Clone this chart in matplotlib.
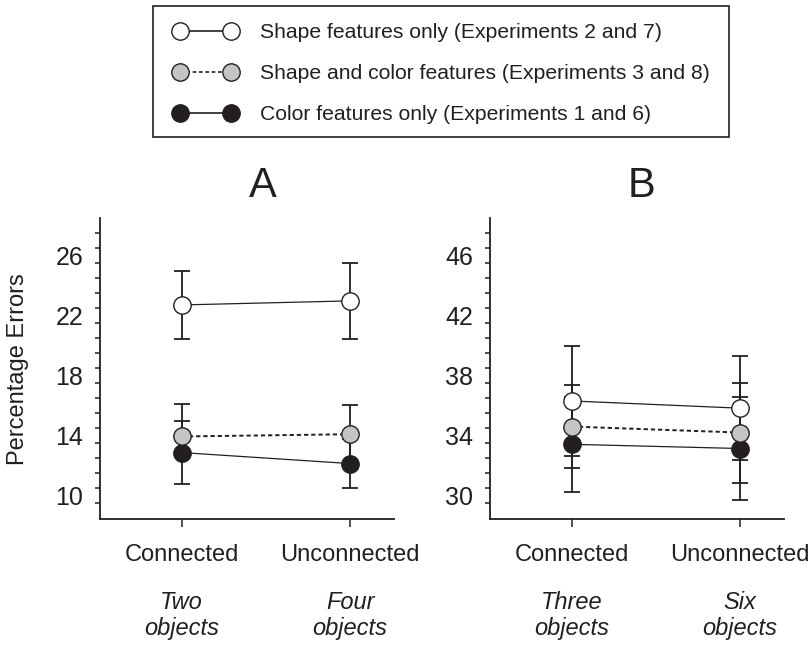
import matplotlib
matplotlib.use("Agg")
import matplotlib.pyplot as plt
from matplotlib.lines import Line2D
from matplotlib.patches import Rectangle
import numpy as np

plt.rcParams['font.family'] = ['Liberation Sans', 'DejaVu Sans']

conditions = ["Connected", "Unconnected"]
objects_A = ["Two\nobjects", "Four\nobjects"]
objects_B = ["Three\nobjects", "Six\nobjects"]

# Panel A
A_shape = [22.69, 22.96]
A_shape_err = [2.27, 2.52]
A_both = [13.95, 14.10]
A_both_err_lo = [1.00, 1.95]
A_both_err_hi = [2.14, 1.95]
A_color = [12.88, 12.15]
A_color_err = [2.10, 1.62]

# Panel B
B_shape = [36.31, 35.83]
B_shape_err = [3.66, 3.47]
B_both = [34.61, 34.21]
B_both_err = [2.75, 3.32]
B_color = [33.43, 33.15]
B_color_err = [3.14, 3.42]

A_ticks = [10, 14, 18, 22, 26]
B_ticks = [30, 34, 38, 42, 46]

labels = ["Shape features only (Experiments 2 and 7)",
          "Shape and color features (Experiments 3 and 8)",
          "Color features only (Experiments 1 and 6)"]

INK = "#231f20"
GRAY = "#c4c4c4"
MS = 12.5

W, H = 809, 645
fig = plt.figure(figsize=(W / 100, H / 100), dpi=100)


def px_axes(l, r, t, b):
    return fig.add_axes([l / W, 1 - b / H, (r - l) / W, (b - t) / H])


axA = px_axes(100, 394, 217.5, 518.5)
axB = px_axes(490, 784, 217.5, 518.5)


def panel(ax, shape, shape_err, both, both_err, color, color_err, ticks, ylo, objs, title, tx):
    x = np.arange(len(conditions))
    ebkw = dict(fmt='none', ecolor=INK, elinewidth=1.3, capsize=6, capthick=1.3, zorder=1)
    ax.errorbar(x, shape, yerr=shape_err, **ebkw)
    ax.errorbar(x, both, yerr=both_err, **ebkw)
    ax.errorbar(x, color, yerr=color_err, **ebkw)
    ax.plot(x, shape, color=INK, lw=0.9, zorder=2)
    ax.plot(x, both, color=INK, lw=1.4, ls=(0, (2.2, 1.5)), zorder=2)
    ax.plot(x, color, color=INK, lw=0.9, zorder=2)
    ax.plot(x, color, 'o', ms=MS, mfc=INK, mec=INK, mew=1.0, ls='none', zorder=3)
    ax.plot(x, both, 'o', ms=MS, mfc=GRAY, mec=INK, mew=1.0, ls='none', zorder=4)
    ax.plot(x, shape, 'o', ms=MS, mfc='white', mec=INK, mew=1.0, ls='none', zorder=5)

    ax.set_xlim(-0.485, 1.26)
    ax.set_ylim(ylo, ylo + 20)
    for s in ['top', 'right']:
        ax.spines[s].set_visible(False)
    for s in ['left', 'bottom']:
        ax.spines[s].set_linewidth(1.3)
        ax.spines[s].set_color(INK)
    ax.set_yticks(ticks)
    ax.set_yticklabels([str(t) for t in ticks])
    ax.set_yticks(np.arange(ylo + 1, ylo + 20, 1.0), minor=True)
    ax.tick_params(axis='y', which='major', length=0, pad=12, labelsize=18, colors=INK)
    ax.tick_params(axis='y', which='minor', length=3.5, width=1.1, direction='out', color=INK)
    ax.set_xticks(x)
    ax.set_xticklabels(conditions)
    ax.tick_params(axis='x', which='major', length=5.5, width=1.1, direction='out',
                   pad=13, labelsize=17, colors=INK)
    for xi, lab in zip(x, objs):
        first, second = lab.split("\n")
        ax.annotate(first, xy=(xi, 0), xycoords=('data', 'axes fraction'),
                    xytext=(0, -(609.3 - 518.5) * 0.72), textcoords='offset points',
                    ha='center', va='baseline', fontsize=17, style='italic', color=INK)
        ax.annotate(second, xy=(xi, 0), xycoords=('data', 'axes fraction'),
                    xytext=(0, -(635 - 518.5) * 0.72), textcoords='offset points',
                    ha='center', va='baseline', fontsize=17, style='italic', color=INK)
    ax.text(tx, 1 + (217.5 - 196.8) / 301.0, title, transform=ax.transAxes,
            ha='center', va='baseline', fontsize=30, color=INK)


panel(axA, A_shape, A_shape_err, A_both, [A_both_err_lo, A_both_err_hi], A_color, A_color_err,
      A_ticks, 8.5, objects_A, "A", 0.554)
panel(axB, B_shape, B_shape_err, B_both, B_both_err, B_color, B_color_err,
      B_ticks, 28.5, objects_B, "B", 0.516)

fig.text(18 / W, 1 - 369 / H, "Percentage Errors", rotation=90, ha='center', va='center',
         fontsize=17, color=INK)

handles = [
    Line2D([0], [0], color=INK, lw=1.2, marker='o', ms=MS, mfc='white', mec=INK, mew=1.0),
    Line2D([0], [0], color=INK, lw=1.2, ls=(0, (2.2, 1.6)), marker='o', ms=MS, mfc=GRAY, mec=INK, mew=1.0),
    Line2D([0], [0], color=INK, lw=1.2, marker='o', ms=MS, mfc=INK, mec=INK, mew=1.0),
]
leg = fig.legend(handles, labels, loc='upper left', bbox_to_anchor=(173.7 / W, 1 - 23.0 / H),
                 borderaxespad=0, borderpad=0, numpoints=2, handlelength=3.0, handletextpad=1.08,
                 fontsize=15.2, frameon=False, labelspacing=1.05)
for t in leg.get_texts():
    t.set_color(INK)

fig.canvas.draw()
ext = leg.get_window_extent()
box_left = 153.3
box_right = ext.x1 + 19
fig.patches.append(Rectangle((box_left / W, 1 - 137 / H), (box_right - box_left) / W, 131 / H,
                             transform=fig.transFigure, fill=False, edgecolor=INK, lw=1.2))

fig.savefig("out.png", dpi=100)
